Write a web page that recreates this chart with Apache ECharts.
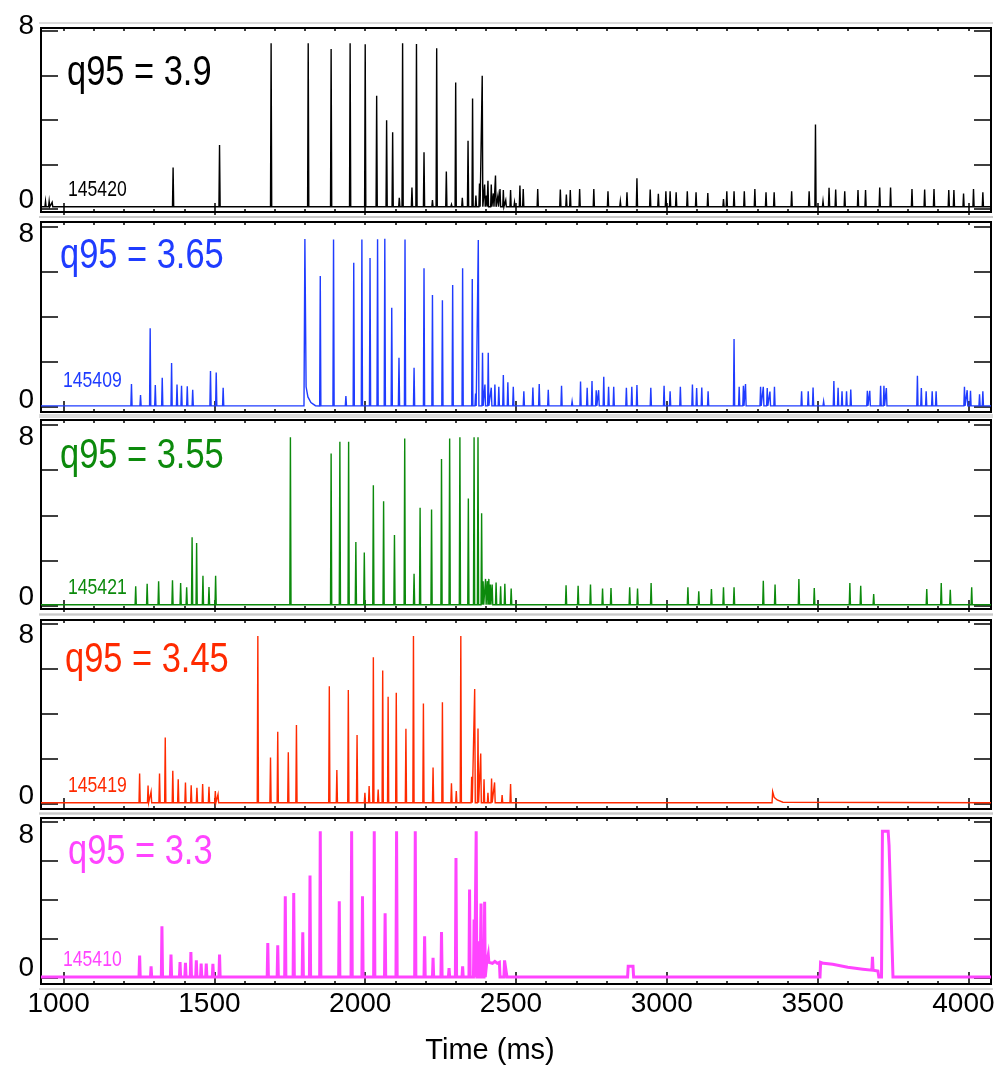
<!DOCTYPE html>
<html lang="en">
<head>
<meta charset="UTF-8">
<title>q95 scan</title>
<style>
    html, body { margin: 0; padding: 0; background: #fff; }
    #main { width: 1001px; height: 1073px; }
</style>
</head>
<body>
<div id="main"></div>
<script src="https://cdn.jsdelivr.net/npm/echarts@6/dist/echarts.min.js"></script>
<script>
    // spikes: [time ms, peak]
    var shot145420 = [[940,0.35],[952,0.35],[962,0.3],[1363,1.86],[1517,2.88],[1688,7.45],[1811,7.45],[1887,7.19],[1950,7.45],[2000,7.4],
        [2038,5.09],[2071,3.99],[2091,3.45],[2113,0.5],[2124,7.45],[2155,0.97],[2170,7.42],[2195,2.55],[2223,0.4],[2237,7.22],
        [2269,1.68],[2286,0.2],[2300,5.69],[2322,0.5],[2341,3.07],[2356,4.97],[2367,0.6],[2379,1.15],[2388,5.99],[2396,1.1],
        [2402,0.6],[2407,1.27],[2418,1.1],[2425,0.7],[2432,1.5],[2440,0.6],[2447,0.9],[2458,0.85],[2466,0.4],[2482,0.85],[2495,0.3],
        [2513,1.05],[2524,0.9],[2572,0.9],[2647,0.88],[2667,0.65],[2680,0.85],[2711,0.9],[2758,0.9],[2805,0.8],[2846,0.35],
        [2868,0.75],[2901,1.38],[2945,0.88],[2972,0.68],[2997,0.8],[3011,0.8],[3031,0.75],[3068,0.8],[3097,0.75],[3136,0.72],
        [3188,0.45],[3199,0.8],[3223,0.8],[3257,0.8],[3292,0.9],[3329,0.75],[3356,0.75],[3414,0.8],[3472,0.8],[3493,3.8],
        [3518,0.35],[3538,0.95],[3560,0.88],[3590,0.8],[3634,0.85],[3659,0.85],[3706,0.97],[3742,0.97],[3813,0.9],[3855,0.88],
        [3886,0.9],[3935,0.85],[3952,0.85],[3984,0.7],[4017,0.9],[4048,0.75]];

    var shot145409 = [[1225,1.02],[1255,0.53],[1287,3.5],[1304,0.98],[1327,1.3],[1358,1.96],[1376,1.0],[1391,0.95],[1410,0.92],[1428,0.77],
        [1487,1.6],[1506,1.53],[1529,0.86],[1851,5.82],[1895,7.44],[1936,0.49],[1962,6.41],[1989,7.44],[2016,6.62],[2041,7.45],
        [2065,7.48],[2088,4.41],[2112,2.19],[2132,7.44],[2162,1.75],[2195,6.16],[2223,4.98],[2256,4.74],[2290,5.42],[2323,6.16],
        [2355,5.69],[2366,0.6],[2375,7.42],[2389,2.41],[2397,1.0],[2408,2.41],[2418,0.86],[2430,1.0],[2443,0.9],[2458,1.42],
        [2473,1.1],[2491,0.9],[2526,0.7],[2556,0.87],[2577,1.02],[2607,0.77],[2651,0.95],[2686,0.25],[2714,1.13],[2736,0.86],
        [2752,1.16],[2766,0.75],[2774,0.75],[2791,1.35],[2807,0.9],[2824,0.9],[2866,0.86],[2884,0.9],[2901,0.98],[2947,0.86],
        [2991,0.95],[3011,0.7],[3045,0.9],[3085,1.0],[3099,0.84],[3116,0.87],[3137,0.7],[3223,3.02],[3240,0.9],[3254,0.95],
        [3261,1.02],[3311,0.9],[3320,0.9],[3333,0.84],[3342,0.69],[3357,0.9],[3447,0.7],[3469,0.7],[3485,0.87],[3520,0.25],
        [3554,1.16],[3568,0.86],[3581,0.7],[3596,0.7],[3610,0.78],[3665,0.72],[3673,0.72],[3709,0.95],[3720,0.95],[3728,0.84],
        [3831,1.39],[3844,0.84],[3860,0.7],[3880,0.7],[3893,0.7],[3987,0.9],[3996,0.75],[4007,0.72],[4037,0.57],[4048,0.7]];
    var shot145409Extra = [[1797,0.05],[1800,7.47],[1804,0.9],[1810,0.45],[1820,0.2],[1835,0.06]];

    var shot145421 = [[1239,0.87],[1277,0.98],[1315,1.1],[1361,1.14],[1388,1.02],[1408,0.83],[1426,3.04],[1441,2.79],[1462,1.34],[1482,0.84],
        [1504,1.34],[1752,7.46],[1887,6.74],[1916,7.26],[1945,7.26],[1969,2.83],[1997,2.37],[2027,5.34],[2061,4.63],[2097,3.14],
        [2131,7.4],[2162,1.43],[2182,4.34],[2220,4.27],[2253,6.5],[2280,7.4],[2314,7.46],[2342,4.75],[2361,7.46],[2374,7.46],
        [2386,4.1],[2391,1.1],[2399,1.2],[2405,1.1],[2410,1.2],[2415,0.95],[2421,0.95],[2434,1.04],[2449,0.87],[2463,0.98],
        [2484,0.77],[2666,0.92],[2706,0.9],[2747,0.95],[2787,0.77],[2815,0.8],[2877,0.83],[2903,0.77],[2948,1.02],[3070,0.83],
        [3106,0.65],[3148,0.75],[3188,0.83],[3223,0.83],[3320,1.12],[3359,0.95],[3438,1.2],[3489,0.8],[3607,1.02],[3643,0.9],
        [3686,0.53],[3862,0.75],[3910,1.02],[3940,0.72],[4011,0.83]];

    var shot145419 = [[1252,1.36],[1280,0.82],[1290,0.55],[1318,1.36],[1337,2.96],[1362,1.48],[1380,1.1],[1404,0.96],[1423,0.84],[1442,0.72],
        [1461,0.89],[1482,0.77],[1503,0.58],[1512,0.43],[1644,7.47],[1686,2.07],[1710,3.21],[1745,2.3],[1772,3.51],[1881,5.24],
        [1906,1.51],[1944,5.07],[1973,3.07],[1999,0.5],[2013,0.8],[2027,6.52],[2043,0.65],[2058,5.93],[2076,4.77],[2103,4.95],
        [2135,3.35],[2160,7.47],[2193,4.47],[2225,1.62],[2256,4.52],[2286,0.92],[2302,0.58],[2317,7.47],[2353,1.21],[2363,5.11],
        [2374,3.36],[2383,2.25],[2394,1.1],[2407,0.5],[2419,1.14],[2429,0.96],[2454,0.4],[2482,0.89]];
    var shot145419Extra = [[3349,0.06],[3351,0.55],[3356,0.3],[3366,0.18],[3385,0.08]];

    var shot145410 = [[1252,1.15],[1290,0.6],[1326,2.65],[1356,1.2],[1386,0.82],[1404,0.77],[1422,1.33],[1440,0.9],[1456,0.74],[1473,0.74],
        [1495,0.72],[1517,1.2],[1677,1.79],[1710,1.67],[1735,4.19],[1763,4.36],[1793,2.34],[1817,5.25],[1851,7.52],[1914,3.93],
        [1955,7.52],[1991,4.19],[2030,7.52],[2066,3.32],[2104,7.52],[2166,7.52],[2197,2.14],[2225,1.03],[2253,2.36],[2278,0.5],
        [2301,6.15],[2323,0.6],[2346,4.53],[2361,3.0],[2368,7.52],[2379,1.88],[2384,3.81],[2396,3.9]];
    var shot145410Extra = [[2401,0.05],[2403,0.8],[2408,1.2],[2410,0.8],[2416,0.9],[2422,0.75],[2430,0.85],[2438,0.75],[2445,0.8],[2447,0.05],
        [2460,0.05],[2462,0.9],[2468,0.9],[2470,0.05],[2870,0.05],[2872,0.6],[2888,0.6],[2890,0.05],
        [3508,0.05],[3510,0.8],[3520,0.75],[3550,0.7],[3553,0.6],[3600,0.55],[3603,0.5],[3650,0.45],[3680,0.4],[3682,1.08],[3684,0.4],
        [3700,0.35],[3703,0.05],[3712,0.05],[3715,7.52],[3734,7.52],[3737,6.8],[3740,6.8],[3750,0.05]];

    var traces = [shot145420, shot145409, shot145421, shot145419, shot145410];
    var extras = [[], shot145409Extra, [], shot145419Extra, shot145410Extra];
    var baselines = [0.1, 0.05, 0.06, 0.06, 0.05];
    var q95Labels = ['q95 = 3.9', 'q95 = 3.65', 'q95 = 3.55', 'q95 = 3.45', 'q95 = 3.3'];
    var shotLabels = ['145420', '145409', '145421', '145419', '145410'];
    var xMajorTicks = [1000, 1500, 2000, 2500, 3000, 3500, 4000];
    var yTickValues = [0, 2, 4, 6, 8];
    var yLabelValues = [0, 8];

    // layout
    var X_MIN = 925, X_MAX = 4075, HW = 2;
    var colors = ['#000000', '#1f3cff', '#0c8a0c', '#ff2a00', '#ff44ff'];
    var lineWidths = [1.4, 1.4, 1.4, 1.4, 3];
    var panelTops = [28, 222, 420, 620, 818];
    var panelHeights = [184, 190, 189, 189, 166];
    var yMins = [-0.135, -0.22, -0.13, -0.22, -0.31];
    var yMaxs = [8.135, 8.22, 8.22, 8.18, 8.2];
    var shift8 = [-5, 7, 12, 11, 13];
    var shift0 = [-9, -7, -9, -8, -10];
    var q95Pos = [[67, 73], [60, 256], [60, 456], [65, 660], [68, 852]];
    var shotPos = [[68, 190], [63, 381], [68, 588], [68, 786], [63, 960]];
    var FONT = "'Liberation Sans', Arial, sans-serif";
    var NARROW = 0.82;
    var GRID_LEFT = 41, GRID_W = 950;

    var xMinorTicks = [];
    for (var t = 1000; t <= 4000; t += 100) xMinorTicks.push(t);

    function buildTrace(spikes, extra, base) {
        var pts = [[X_MIN, base]];
        spikes.forEach(function (s) {
            pts.push([s[0] - HW, base], [s[0], s[1]], [s[0] + HW, base]);
        });
        extra.forEach(function (p) { pts.push(p); });
        pts.sort(function (a, b) { return a[0] - b[0]; });
        pts.push([X_MAX, base]);
        return pts;
    }

    var tickStyle = {color: '#000', width: 1.5};
    var grids = [], xAxes = [], yAxes = [], series = [], graphics = [];

    for (var i = 0; i < 5; i++) {
        grids.push({left: GRID_LEFT, width: GRID_W, top: panelTops[i], height: panelHeights[i],
            show: true, borderColor: '#000', borderWidth: 2, backgroundColor: 'transparent'});

        var isLast = i === 4;
        xAxes.push({
            gridIndex: i, type: 'value', min: X_MIN, max: X_MAX, position: 'bottom',
            axisLine: {show: false}, splitLine: {show: false},
            axisTick: {inside: true, length: 6, customValues: xMajorTicks, lineStyle: tickStyle},
            axisLabel: isLast ? {customValues: xMajorTicks, margin: 6, color: '#000', fontSize: 28,
                fontFamily: FONT, padding: [0, 10, 0, 0],
                formatter: function (v) { return String(v); }} : {show: false},
            name: isLast ? 'Time (ms)' : '', nameLocation: 'middle', nameGap: 52,
            nameTextStyle: {fontSize: 29, fontFamily: FONT, color: '#000', padding: [0, 52, 0, 0]}
        });
        xAxes.push({
            gridIndex: i, type: 'value', min: X_MIN, max: X_MAX, position: 'top',
            axisLine: {show: false}, splitLine: {show: false},
            axisTick: {inside: true, length: 6, customValues: xMajorTicks, lineStyle: tickStyle},
            axisLabel: {show: false}
        });

        var rich = {
            lo: {fontSize: 28, fontFamily: FONT, color: '#000',
                padding: shift0[i] < 0 ? [0, 0, -2 * shift0[i], 0] : [2 * shift0[i], 0, 0, 0]},
            hi: {fontSize: 28, fontFamily: FONT, color: '#000',
                padding: shift8[i] < 0 ? [0, 0, -2 * shift8[i], 0] : [2 * shift8[i], 0, 0, 0]}
        };
        yAxes.push({
            gridIndex: i, type: 'value', min: yMins[i], max: yMaxs[i], position: 'left',
            axisLine: {show: false}, splitLine: {show: false},
            axisTick: {inside: true, length: 17, customValues: yTickValues, lineStyle: tickStyle},
            axisLabel: {customValues: yLabelValues, margin: 7, rich: rich,
                formatter: function (v) { return v === 0 ? '{lo|0}' : '{hi|8}'; }}
        });
        yAxes.push({
            gridIndex: i, type: 'value', min: yMins[i], max: yMaxs[i], position: 'right',
            axisLine: {show: false}, splitLine: {show: false},
            axisTick: {inside: true, length: 17, customValues: yTickValues, lineStyle: tickStyle},
            axisLabel: {show: false}
        });

        series.push({
            type: 'line', xAxisIndex: 2 * i, yAxisIndex: 2 * i,
            data: buildTrace(traces[i], extras[i], baselines[i]),
            showSymbol: false, symbol: 'none', silent: true,
            lineStyle: {color: colors[i], width: lineWidths[i], join: 'miter'}
        });

        // labels drawn slightly condensed like the original figure
        graphics.push({type: 'text', x: q95Pos[i][0], y: q95Pos[i][1], scaleX: NARROW, silent: true,
            style: {text: q95Labels[i], font: '42px ' + FONT, fill: colors[i], align: 'left', verticalAlign: 'middle'}});
        graphics.push({type: 'text', x: shotPos[i][0], y: shotPos[i][1], scaleX: 0.8, silent: true,
            style: {text: shotLabels[i], font: '22px ' + FONT, fill: colors[i], align: 'left', verticalAlign: 'middle'}});
        // light outline outside each panel
        graphics.push({type: 'line', silent: true, shape: {x1: GRID_LEFT - 2, y1: panelTops[i] - 5, x2: GRID_LEFT + GRID_W + 2, y2: panelTops[i] - 5},
            style: {stroke: '#b8b8b8', lineWidth: 1}});
        graphics.push({type: 'line', silent: true, shape: {x1: GRID_LEFT - 2, y1: panelTops[i] + panelHeights[i] + 5, x2: GRID_LEFT + GRID_W + 2, y2: panelTops[i] + panelHeights[i] + 5},
            style: {stroke: '#b8b8b8', lineWidth: 1}});
    }

    // second set of grids only for the minor x ticks (every 100 ms)
    for (var j = 0; j < 5; j++) {
        grids.push({left: GRID_LEFT, width: GRID_W, top: panelTops[j], height: panelHeights[j], show: false});
        xAxes.push({
            gridIndex: 5 + j, type: 'value', min: X_MIN, max: X_MAX, position: 'bottom',
            axisLine: {show: false}, splitLine: {show: false}, axisLabel: {show: false},
            axisTick: {inside: true, length: 3, customValues: xMinorTicks, lineStyle: tickStyle}
        });
        xAxes.push({
            gridIndex: 5 + j, type: 'value', min: X_MIN, max: X_MAX, position: 'top',
            axisLine: {show: false}, splitLine: {show: false}, axisLabel: {show: false},
            axisTick: {inside: true, length: 3, customValues: xMinorTicks, lineStyle: tickStyle}
        });
        yAxes.push({gridIndex: 5 + j, type: 'value', min: 0, max: 8, show: false});
    }

    var myChart = echarts.init(document.getElementById('main'));
    myChart.setOption({
        animation: false,
        backgroundColor: '#ffffff',
        grid: grids,
        xAxis: xAxes,
        yAxis: yAxes,
        series: series,
        graphic: graphics
    });
</script>
</body>
</html>
